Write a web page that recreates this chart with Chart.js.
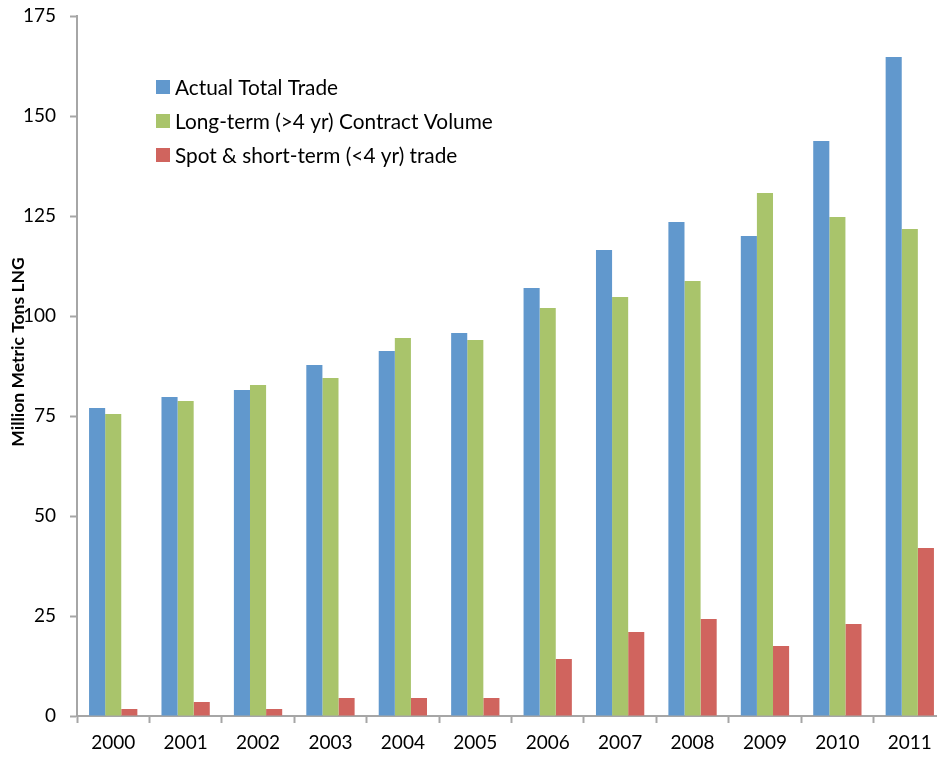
<!DOCTYPE html>
<html>
<head>
<meta charset="utf-8">
<script src="https://cdn.jsdelivr.net/npm/chart.js@4.4.0/dist/chart.umd.min.js"></script>
<style>
  html, body { margin: 0; padding: 0; background: #fff; overflow: hidden; }
  #wrap { width: 950px; height: 760px; }
</style>
</head>
<body>
<div id="wrap"><canvas id="mycanvas" width="950" height="760"></canvas></div>
<script>
// ** LNG trade chart

var years = ['2000', '2001', '2002', '2003', '2004', '2005', '2006', '2007', '2008', '2009', '2010', '2011'];
var totalTrade = [77, 79.75, 81.5, 87.75, 91.25, 95.75, 107, 116.5, 123.5, 120, 143.75, 164.75];
var longTerm = [75.5, 78.75, 82.75, 84.5, 94.5, 94, 102, 104.75, 108.75, 130.75, 124.75, 121.75];
var spotTrade = [1.75, 3.5, 1.75, 4.5, 4.5, 4.5, 14.25, 21, 24.25, 17.5, 23, 42];
var yTicks = [0, 25, 50, 75, 100, 125, 150, 175];

var axisGray = '#a6a6a6';
var fontFace = 'Lato, "Open Sans", sans-serif';

// legend drawn inside the plot, stacked vertically
var innerLegend = {
	id: 'innerLegend',
	afterDraw: function(chart) {
		var ctx = chart.ctx;
		var sets = chart.data.datasets;
		ctx.save();
		ctx.font = '20.8px ' + fontFace;
		ctx.textBaseline = 'middle';
		for (var i = 0; i < sets.length; i++) {
			var y = 87 + i * 34;
			ctx.fillStyle = sets[i].backgroundColor;
			ctx.fillRect(156, y - 7, 14, 14);
			ctx.fillStyle = '#000';
			ctx.fillText(sets[i].label, 175, y + 1);
		}
		ctx.restore();
	}
};

// y title sits over the tick labels like in the original
var yTitle = {
	id: 'yTitle',
	afterDraw: function(chart) {
		var ctx = chart.ctx;
		ctx.save();
		ctx.translate(18, 352);
		ctx.rotate(-Math.PI / 2);
		ctx.font = 'bold 17.5px ' + fontFace;
		ctx.fillStyle = '#000';
		ctx.textAlign = 'center';
		ctx.textBaseline = 'middle';
		ctx.fillText('Million Metric Tons LNG', 0, 0);
		ctx.restore();
	}
};

var chartdata = {
	labels: years,
	datasets: [{
		label: 'Actual Total Trade',
		backgroundColor: '#6198cd',
		data: totalTrade
	}, {
		label: 'Long-term (>4 yr) Contract Volume',
		backgroundColor: '#a9c46b',
		data: longTerm
	}, {
		label: 'Spot & short-term (<4 yr) trade',
		backgroundColor: '#d0645e',
		data: spotTrade
	}]
};

var ctx = document.getElementById('mycanvas');

var barGraph = new Chart(ctx, {
	type: 'bar',
	data: chartdata,
	plugins: [innerLegend, yTitle],
	options: {
		responsive: false,
		animation: false,
		layout: { padding: { top: 16, right: 4, left: 0, bottom: 0 } },
		datasets: {
			bar: { categoryPercentage: 0.667, barPercentage: 1.0 }
		},
		plugins: {
			legend: { display: false },
			tooltip: { enabled: false }
		},
		scales: {
			x: {
				offset: true,
				grid: {
					offset: true,
					drawOnChartArea: false,
					drawTicks: true,
					tickLength: 7,
					tickColor: axisGray,
					tickWidth: 2
				},
				border: { color: axisGray, width: 2 },
				ticks: {
					color: '#000',
					font: { family: fontFace, size: 19 },
					padding: 8
				},
				afterFit: function(scale) {
					scale.height = 44;
					scale.paddingLeft = 0;
					scale.paddingRight = 0;
				}
			},
			y: {
				min: 0,
				max: 175,
				afterBuildTicks: function(scale) {
					scale.ticks = yTicks.map(function(v) { return { value: v }; });
				},
				grid: {
					drawOnChartArea: false,
					drawTicks: true,
					tickLength: 7,
					tickColor: axisGray,
					tickWidth: 2
				},
				border: { color: axisGray, width: 2 },
				ticks: {
					color: '#000',
					font: { family: fontFace, size: 19 },
					padding: 14
				},
				afterFit: function(scale) {
					scale.width = 77;
					scale.paddingTop = 0;
					scale.paddingBottom = 0;
				}
			}
		}
	}
});
</script>
</body>
</html>
